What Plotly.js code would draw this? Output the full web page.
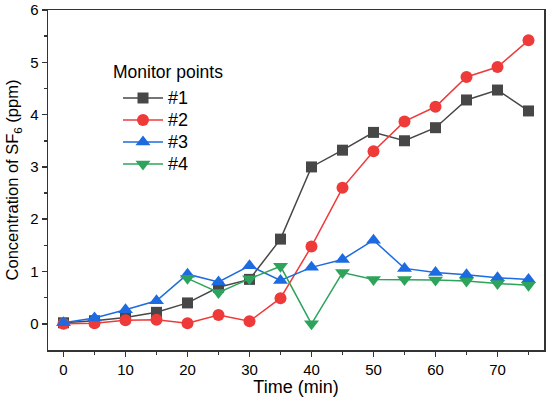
<!DOCTYPE html>
<html><head><meta charset="utf-8">
<script src="https://cdn.plot.ly/plotly-3.0.1.min.js"></script>
<style>html,body{margin:0;padding:0;background:#fff}#plot{width:550px;height:406px}</style>
</head><body><div id="plot"></div>
<script>
var time = [0,5,10,15,20,25,30,35,40,45,50,55,60,65,70,75];
var time4 = [20,25,30,35,40,45,50,55,60,65,70,75];
var p1 = [0.02,0.06,0.12,0.22,0.40,0.70,0.85,1.62,3.00,3.32,3.66,3.50,3.75,4.28,4.47,4.07];
var p2 = [0.00,0.01,0.07,0.08,0.01,0.17,0.05,0.49,1.48,2.60,3.30,3.87,4.15,4.72,4.91,5.42];
var p3 = [0.02,0.11,0.27,0.44,0.95,0.80,1.11,0.83,1.08,1.23,1.60,1.06,0.98,0.94,0.88,0.85];
var p4 = [0.87,0.60,0.86,1.10,0.00,0.98,0.85,0.85,0.84,0.82,0.77,0.74];
var names = ['#1','#2','#3','#4'];
var legendTitle = 'Monitor points';

function tr(x,y,name,color,symbol,size){
  return {x:x,y:y,name:'<span style="font-size:18px">'+name+'</span>',type:'scatter',mode:'lines+markers',
    line:{color:color,width:1.5},
    marker:{color:color,symbol:symbol,size:size,line:{width:0}}};
}
var data = [
  tr(time,p1,names[0],'#474747','square',11),
  tr(time,p2,names[1],'#ef3a3a','circle',12),
  tr(time,p3,names[2],'#1c6be0','triangle-up',13),
  tr(time4,p4,names[3],'#2ea35c','triangle-down',13)
];
var ff = '"Liberation Sans", Arial, sans-serif';
var layout = {
  width:550,height:406,
  margin:{l:48,r:6,t:10,b:56},
  paper_bgcolor:'#fff',plot_bgcolor:'#fff',
  font:{family:ff,color:'#000',size:15},
  showlegend:true,
  legend:{x:(118-48)/496,y:(350-82)/340,xanchor:'left',yanchor:'top',bgcolor:'rgba(0,0,0,0)',
    font:{family:ff,size:14.6,color:'#000'},tracegroupgap:0,itemwidth:40},
  annotations:[{text:legendTitle,xref:'paper',yref:'paper',x:(111-48)/496,y:(350-72)/340,
    xanchor:'left',yanchor:'middle',showarrow:false,font:{family:ff,size:17.5,color:'#000'}}],
  xaxis:{range:[-2.5,77.5],tickvals:[0,10,20,30,40,50,60,70],ticks:'outside',ticklen:5,tickwidth:1.5,
    showgrid:false,zeroline:false,showline:true,linecolor:'#333',linewidth:1.5,mirror:true,
    tickfont:{family:ff,size:15,color:'#000'},tickcolor:'#333',
    minor:{tickvals:[5,15,25,35,45,55,65,75],ticks:'outside',ticklen:3,tickwidth:1.5,tickcolor:'#333',showgrid:false},
    title:{text:'Time (min)',font:{family:ff,size:18,color:'#000'},standoff:4}},
  yaxis:{range:[-0.5,6],tickvals:[0,1,2,3,4,5,6],ticks:'outside',ticklen:5,tickwidth:1.5,
    showgrid:false,zeroline:false,showline:true,linecolor:'#333',linewidth:1.5,mirror:true,
    tickfont:{family:ff,size:15,color:'#000'},tickcolor:'#333',
    minor:{tickvals:[0.5,1.5,2.5,3.5,4.5,5.5],ticks:'outside',ticklen:3,tickwidth:1.5,tickcolor:'#333',showgrid:false},
    title:{text:'Concentration of SF<sub>6</sub> (ppm)',font:{family:ff,size:16.5,color:'#000'},standoff:7}}
};
Plotly.newPlot('plot',data,layout,{displayModeBar:false,staticPlot:true});
</script></body></html>
